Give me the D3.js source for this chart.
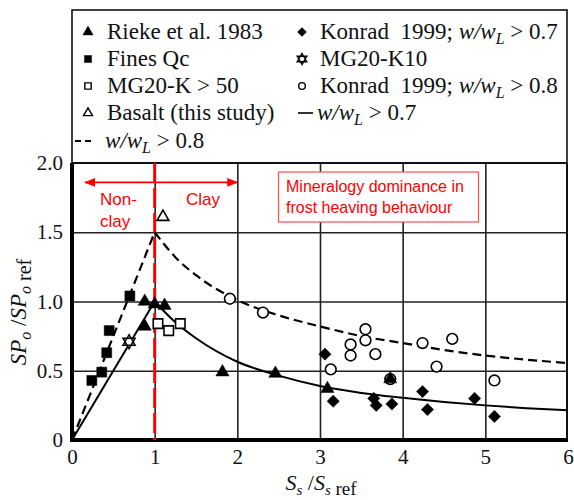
<!DOCTYPE html>
<html><head><meta charset="utf-8">
<script src="https://cdn.jsdelivr.net/npm/d3@7/dist/d3.min.js"></script>
<style>
body{margin:0;background:#fff;}
svg{display:block;}
.serif{font-family:"Liberation Serif","Tinos","Times New Roman","DejaVu Serif",serif;}
text{white-space:pre;}
</style></head>
<body><svg id="c" width="574" height="500"></svg>
<script>
// ---- data ----
const xTicks = [0,1,2,3,4,5,6];
const xTickLabels = ["0","1","2","3","4","5","6"];
const yTicks = [0,0.5,1,1.5,2];
const yTickLabels = ["0","0.5","1.0","1.5","2.0"];

const rieke1983 = [[0.88,1.00],[0.88,0.82],[1.00,0.98],[1.12,0.97],[1.82,0.49],[2.46,0.48],[3.09,0.37],[3.85,0.44]];
const finesQc = [[0.24,0.43],[0.36,0.49],[0.42,0.63],[0.45,0.79],[0.70,1.04]];
const mg20k50 = [[1.04,0.84],[1.17,0.79],[1.31,0.84]];
const basalt = [[1.10,1.61]];
const konrad07 = [[3.06,0.62],[3.16,0.28],[3.65,0.30],[3.68,0.25],[3.87,0.26],[4.24,0.35],[4.30,0.22],[4.87,0.30],[5.11,0.17]];
const mg20k10 = [[0.69,0.71]];
const konrad08 = [[1.91,1.02],[2.31,0.92],[3.13,0.51],[3.37,0.69],[3.37,0.61],[3.55,0.80],[3.55,0.72],[3.67,0.62],[3.85,0.44],[4.24,0.70],[4.41,0.53],[4.60,0.73],[5.11,0.43]];

const curveX = [0,1,1.25,1.5,2,2.5,3,3.5,4,4.5,5,5.5,6];
const solid07 = [0,1.00,0.85,0.735,0.565,0.465,0.39,0.34,0.305,0.275,0.25,0.23,0.215];
const dashed08 = [0,1.50,1.32,1.19,1.01,0.90,0.82,0.75,0.70,0.65,0.61,0.58,0.555];

const legendLeft = ["Rieke et al. 1983","Fines Qc","MG20-K > 50","Basalt (this study)"];
const legendRight = ["Konrad  1999; ","MG20-K10","Konrad  1999; ",""];

// ---- layout ----
const svg = d3.select("#c");
const sans = "'Liberation Sans',Arial,sans-serif";
const red = "#ff0000";
const x = d3.scaleLinear().domain([0,6]).range([72,568]);
const y = d3.scaleLinear().domain([0,2]).range([440,163]);

// grid
svg.append("g").attr("transform","translate(0,440)")
  .call(d3.axisBottom(x).tickValues([1,2,3,4,5]).tickSize(-277).tickFormat(""))
  .call(g=>g.select(".domain").remove())
  .call(g=>g.selectAll("line").attr("stroke","#222").attr("stroke-width",1.6));
svg.append("g").attr("transform","translate(72,0)")
  .call(d3.axisLeft(y).tickValues([0.5,1,1.5]).tickSize(-495).tickFormat(""))
  .call(g=>g.select(".domain").remove())
  .call(g=>g.selectAll("line").attr("stroke","#222").attr("stroke-width",1.6));

// tick labels
svg.append("g").attr("transform","translate(0,440)")
  .call(d3.axisBottom(x).tickValues(xTicks).tickSize(0).tickPadding(9).tickFormat((d,i)=>xTickLabels[i]))
  .call(g=>g.select(".domain").remove())
  .call(g=>g.attr("font-family",null).attr("font-size",null).attr("class","serif"))
  .call(g=>g.selectAll("text").style("font-size","21px").attr("fill","#111"));
svg.append("g").attr("transform","translate(72,0)")
  .call(d3.axisLeft(y).tickValues(yTicks).tickSize(0).tickPadding(9).tickFormat((d,i)=>yTickLabels[i]))
  .call(g=>g.select(".domain").remove())
  .call(g=>g.attr("font-family",null).attr("font-size",null).attr("class","serif"))
  .call(g=>g.selectAll("text").style("font-size","21px").attr("fill","#111"));

// frame
svg.append("rect").attr("x",72).attr("y",10).attr("width",495).attr("height",153)
  .attr("fill","none").attr("stroke","#111").attr("stroke-width",1.6);
svg.append("line").attr("x1",72).attr("x2",567).attr("y1",163).attr("y2",163).attr("stroke","#111").attr("stroke-width",2);
svg.append("line").attr("x1",567).attr("x2",567).attr("y1",163).attr("y2",440).attr("stroke","#111").attr("stroke-width",2);
svg.append("line").attr("x1",72).attr("x2",72).attr("y1",163).attr("y2",442).attr("stroke","#000").attr("stroke-width",4);
svg.append("line").attr("x1",70).attr("x2",568).attr("y1",440).attr("y2",440).attr("stroke","#000").attr("stroke-width",4);

// red vertical dashed line at x=1
svg.append("line").attr("x1",x(1)).attr("x2",x(1)).attr("y1",163).attr("y2",440)
  .attr("stroke",red).attr("stroke-width",3).attr("stroke-dasharray","20,5");

// curves
const lin = d3.line().x(d=>x(d[0])).y(d=>y(d[1]));
const smooth = d3.line().x(d=>x(d[0])).y(d=>y(d[1])).curve(d3.curveMonotoneX);
const solidPts = curveX.map((v,i)=>[v,solid07[i]]);
const dashPts = curveX.map((v,i)=>[v,dashed08[i]]);
svg.append("path").attr("d",lin(solidPts.slice(0,2))).attr("fill","none").attr("stroke","#000").attr("stroke-width",2);
svg.append("path").attr("d",smooth(solidPts.slice(1))).attr("fill","none").attr("stroke","#000").attr("stroke-width",2);
svg.append("path").attr("d",lin(dashPts.slice(0,2))).attr("fill","none").attr("stroke","#000").attr("stroke-width",2.2).attr("stroke-dasharray","9,5");
svg.append("path").attr("d",smooth(dashPts.slice(1))).attr("fill","none").attr("stroke","#000").attr("stroke-width",2.2).attr("stroke-dasharray","9,5");

// markers
function hexagram(r){
  const t1=[0,1,2].map(k=>{const a=-Math.PI/2+k*2*Math.PI/3;return [r*Math.cos(a),r*Math.sin(a)];});
  const t2=[0,1,2].map(k=>{const a=Math.PI/2+k*2*Math.PI/3;return [r*Math.cos(a),r*Math.sin(a)];});
  return "M"+t1.join("L")+"Z M"+t2.join("L")+"Z";
}
function drawMarkers(data,type,size,fill,sw,rot){
  const g = svg.append("g");
  g.selectAll("path").data(data).join("path")
    .attr("transform",d=>`translate(${x(d[0])},${y(d[1])})`+(rot?` rotate(${rot})`:""))
    .attr("d",type==="hex"?hexagram(size):d3.symbol().type(type).size(size)())
    .attr("fill",fill).attr("stroke","#000").attr("stroke-width",sw);
}
drawMarkers(konrad08,d3.symbolCircle,90,"#fff",1.6);
drawMarkers(mg20k50,d3.symbolSquare,90,"#fff",1.6);
drawMarkers(basalt,d3.symbolTriangle,60,"#fff",1.6);
drawMarkers(mg20k10,"hex",7,"#fff",1.5);
drawMarkers(finesQc,d3.symbolSquare,100,"#000",0.5);
drawMarkers(konrad07,d3.symbolSquare,75,"#000",0.5,45);
drawMarkers(rieke1983,d3.symbolTriangle,75,"#000",0.5);

// red annotations
const defs = svg.append("defs");
defs.append("marker").attr("id","ah").attr("viewBox","0 0 10 10").attr("refX",9).attr("refY",5)
  .attr("markerWidth",7).attr("markerHeight",7).attr("orient","auto-start-reverse")
  .append("path").attr("d","M0,1 L10,5 L0,9 Z").attr("fill",red);
svg.append("line").attr("x1",x(0.16)).attr("x2",x(2)).attr("y1",y(1.86)).attr("y2",y(1.86))
  .attr("stroke",red).attr("stroke-width",1.6).attr("marker-start","url(#ah)").attr("marker-end","url(#ah)");
svg.append("rect").attr("x",278.5).attr("y",172).attr("width",200).attr("height",50)
  .attr("fill","#fff").attr("stroke","#ff5050").attr("stroke-width",1.2);
const ann = svg.append("g").attr("font-family",sans).attr("font-size",16).attr("fill",red);
ann.append("text").attr("x",100).attr("y",205).style("font-size","17px").text("Non-");
ann.append("text").attr("x",100).attr("y",227).style("font-size","17px").text("clay");
ann.append("text").attr("x",186).attr("y",205).style("font-size","17px").text("Clay");
ann.append("text").attr("x",286).attr("y",191.5).text("Mineralogy dominance in");
ann.append("text").attr("x",286).attr("y",212.5).text("frost heaving behaviour");

// legend
const lg = svg.append("g").attr("class","serif").style("font-size","23px").attr("fill","#111");
const rowsY = [32,59,86,113,141];
const lsym = (type,size)=>d3.symbol().type(type).size(size)();
const legSyms = [[lsym(d3.symbolTriangle,45),"#000"],[lsym(d3.symbolSquare,50),"#000"],[lsym(d3.symbolSquare,40),"#fff"],[lsym(d3.symbolTriangle,35),"#fff"]];
legendLeft.forEach((t,i)=>{
  lg.append("path").attr("transform",`translate(88,${rowsY[i]})`).attr("d",legSyms[i][0])
    .attr("fill",legSyms[i][1]).attr("stroke","#000").attr("stroke-width",legSyms[i][1]==="#fff"?1.4:0.5);
  lg.append("text").attr("x",107).attr("y",rowsY[i]+7).text(t);
});
function wwl(sel,rest){
  sel.append("tspan").attr("font-style","italic").text("w/w");
  sel.append("tspan").attr("font-style","italic").style("font-size","16px").attr("dy",5).text("L");
  sel.append("tspan").attr("dy",-5).text(" > "+rest);
}
// right column
lg.append("path").attr("transform",`translate(302,${rowsY[0]}) rotate(45)`).attr("d",lsym(d3.symbolSquare,45)).attr("fill","#000");
let t = lg.append("text").attr("x",320).attr("y",rowsY[0]+7); t.append("tspan").text(legendRight[0]); wwl(t,"0.7");
lg.append("path").attr("transform",`translate(302,${rowsY[1]})`).attr("d",hexagram(5.5)).attr("fill","#fff").attr("stroke","#000").attr("stroke-width",1.4);
lg.append("text").attr("x",320).attr("y",rowsY[1]+7).text(legendRight[1]);
lg.append("path").attr("transform",`translate(302,${rowsY[2]})`).attr("d",lsym(d3.symbolCircle,35)).attr("fill","#fff").attr("stroke","#000").attr("stroke-width",1.4);
t = lg.append("text").attr("x",320).attr("y",rowsY[2]+7); t.append("tspan").text(legendRight[2]); wwl(t,"0.8");
lg.append("line").attr("x1",298).attr("x2",313).attr("y1",rowsY[3]).attr("y2",rowsY[3]).attr("stroke","#000").attr("stroke-width",1.6);
t = lg.append("text").attr("x",317).attr("y",rowsY[3]+7); wwl(t,"0.7");
lg.append("line").attr("x1",75).attr("x2",93).attr("y1",rowsY[4]).attr("y2",rowsY[4]).attr("stroke","#000").attr("stroke-width",1.8).attr("stroke-dasharray","6,4");
t = lg.append("text").attr("x",105).attr("y",rowsY[4]+7); wwl(t,"0.8");

// axis titles
const xt = svg.append("text").attr("class","serif").attr("x",321).attr("y",490).attr("text-anchor","middle")
  .style("font-size","22px").attr("fill","#111");
xt.append("tspan").attr("font-style","italic").text("S");
xt.append("tspan").attr("font-style","italic").style("font-size","15px").attr("dy",5).text("s");
xt.append("tspan").attr("dy",-5).text(" /");
xt.append("tspan").attr("font-style","italic").text("S");
xt.append("tspan").attr("font-style","italic").style("font-size","15px").attr("dy",5).text("s");
xt.append("tspan").style("font-size","19px").text(" ref");

const yt = svg.append("text").attr("class","serif").attr("transform","translate(26,312) rotate(-90)").attr("text-anchor","middle")
  .style("font-size","23px").attr("fill","#111");
yt.append("tspan").attr("font-style","italic").text("SP");
yt.append("tspan").attr("font-style","italic").style("font-size","16px").attr("dy",5).text("o");
yt.append("tspan").attr("dy",-5).text(" /");
yt.append("tspan").attr("font-style","italic").text("SP");
yt.append("tspan").attr("font-style","italic").style("font-size","16px").attr("dy",5).text("o");
yt.append("tspan").style("font-size","20px").text(" ref");
</script>
</body></html>
